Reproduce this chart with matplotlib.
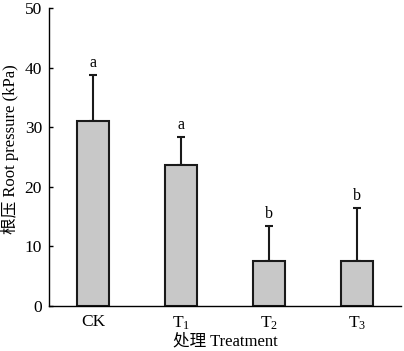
import matplotlib
matplotlib.use("Agg")
import matplotlib.pyplot as plt

categories = ["CK", "T$_1$", "T$_2$", "T$_3$"]
means = [31.1, 23.6, 7.5, 7.6]
errors = [7.6, 4.7, 5.9, 8.8]
letters = ["a", "a", "b", "b"]
yticks = [0, 10, 20, 30, 40, 50]

plt.rcParams['font.family'] = ['Liberation Serif', 'Noto Sans CJK SC']
plt.rcParams['mathtext.fontset'] = 'custom'
plt.rcParams['mathtext.rm'] = 'Liberation Serif'
plt.rcParams['mathtext.it'] = 'Liberation Serif'

fig = plt.figure(figsize=(4.04, 3.51), dpi=100)
ax = fig.add_axes([0.121, 0.128, 0.872, 0.849])
x = range(len(categories))
ax.bar(x, means, width=0.36, color='#c8c8c8', edgecolor='#1a1a1a', linewidth=1.5, zorder=2)
ax.errorbar(x, means, yerr=[[0]*4, errors], fmt='none', ecolor='#1a1a1a',
            elinewidth=1.5, capsize=3, capthick=1.5, zorder=1)
for xi, m, e, l in zip(x, means, errors, letters):
    ax.text(xi, m + e + 0.7, l, ha='center', va='bottom', fontsize=11.5)

ax.set_xlim(-0.5, 3.5)
ax.set_ylim(0, 50)
ax.set_yticks(yticks)
ax.set_xticks(list(x))
ax.set_xticklabels(categories)
ax.tick_params(axis='y', direction='in', length=3, width=1, labelsize=12.5, pad=5)
ax.tick_params(axis='x', length=0, labelsize=12.5, pad=6)
ax.spines['top'].set_visible(False)
ax.spines['right'].set_visible(False)
for s in ['left', 'bottom']:
    ax.spines[s].set_linewidth(1.0)
ax.set_ylabel('根压 Root pressure (kPa)', fontsize=12)
ax.yaxis.set_label_coords(-0.086, 0.527)
ax.set_xlabel('处理 Treatment', fontsize=12, labelpad=1)
fig.savefig('out.png', dpi=100)
